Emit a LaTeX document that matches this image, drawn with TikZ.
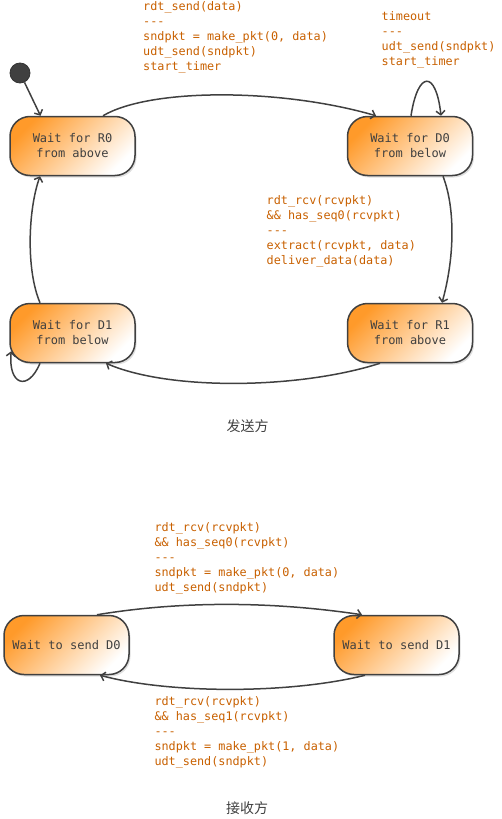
\documentclass[tikz,border=0pt]{standalone}
\usepackage{fontspec}
\setmonofont{DejaVu Sans Mono}
\newfontfamily\cjkfont{Noto Sans CJK SC}
\usetikzlibrary{arrows.meta,shadows}
\definecolor{lblc}{HTML}{C86000}
\definecolor{edgec}{HTML}{404040}
\definecolor{txtc}{HTML}{404040}
\definecolor{orng}{HTML}{FF9A2A}
\newcommand{\strt}{\rule{0pt}{10pt}}
\begin{document}
\begin{tikzpicture}[x=1pt,y=-1pt,
  state/.style={draw=edgec, line width=1.5pt, rounded corners=20pt,
    minimum width=125pt, minimum height=59pt, inner sep=0pt, align=center,
    top color=orng, bottom color=white, middle color=orng!50!white, shading angle=45,
    text=txtc, font={\ttfamily\fontsize{12}{15}\selectfont},
    drop shadow={opacity=0.25, shadow xshift=1.5pt, shadow yshift=-2pt}},
  lbl/.style={anchor=north west, inner sep=0pt, align=left, text=lblc,
    font={\ttfamily\fontsize{11.8}{15}\selectfont}},
  arr/.style={draw=edgec, line width=1.5pt, -{Straight Barb[length=4pt,width=9pt]}},
  ttl/.style={text=txtc, font={\cjkfont\fontsize{14}{16}\selectfont}}]
\useasboundingbox (0,0) rectangle (502,819);

% sender states
\node[circle, fill=edgec, draw=black!80, line width=0.8pt, minimum size=20pt, inner sep=0pt] (init) at (20,73) {};
\node[state] (r0) at (72.5,146) {Wait for R0\\from above};
\node[state] (d0) at (410,146) {Wait for D0\\from below};
\node[state] (d1) at (72.5,333) {Wait for D1\\from below};
\node[state] (r1) at (410,333) {Wait for R1\\from above};

% receiver states
\node[state] (s0) at (66.5,645) {Wait to send D0};
\node[state] (s1) at (396.5,645) {Wait to send D1};

% labels
\node[lbl] (l1) at (143,0.5) {\strt rdt\_send(data)\\-{}-{}-\\sndpkt = make\_pkt(0, data)\\udt\_send(sndpkt)\\start\_timer};
\node[lbl] (l2) at (381.5,10) {\strt timeout\\-{}-{}-\\udt\_send(sndpkt)\\start\_timer};
\node[lbl] (l3) at (266.5,194) {\strt rdt\_rcv(rcvpkt)\\\&\& has\_seq0(rcvpkt)\\-{}-{}-\\extract(rcvpkt, data)\\deliver\_data(data)};
\node[lbl] (l4) at (154.3,521) {\strt rdt\_rcv(rcvpkt)\\\&\& has\_seq0(rcvpkt)\\-{}-{}-\\sndpkt = make\_pkt(0, data)\\udt\_send(sndpkt)};
\node[lbl] (l5) at (154.3,695) {\strt rdt\_rcv(rcvpkt)\\\&\& has\_seq1(rcvpkt)\\-{}-{}-\\sndpkt = make\_pkt(1, data)\\udt\_send(sndpkt)};

\node[ttl] (t1) at (247.5,426) {发送方};
\node[ttl] (t2) at (247,808) {接收方};

% sender edges
\draw[arr] (init) -- ([xshift=-32pt]r0.north);
\draw[arr] ([xshift=30.5pt]r0.north) .. controls (150,88) and (280,88) .. ([xshift=-34pt]d0.north);
\draw[arr] ([xshift=1pt]d0.north) .. controls (418,70) and (436,70) .. ([xshift=31pt]d0.north);
\draw[arr] ([xshift=33pt]d0.south) .. controls (456,210) and (454,260) .. ([xshift=32pt]r1.north);
\draw[arr] ([xshift=-30pt]r1.south) .. controls (300,389) and (170,391) .. ([xshift=33.5pt]d1.south);
\draw[arr] ([xshift=-32.5pt]d1.south) .. controls (28,392) and (8,385) .. ([xshift=2pt,yshift=12pt]d1.south west);
\draw[arr] ([xshift=-32.5pt]d1.north) .. controls (26,270) and (28,210) .. ([xshift=-32.5pt]r0.south);

% receiver edges
\draw[arr] ([xshift=30.5pt]s0.north) .. controls (180,601) and (270,601) .. ([xshift=-34.5pt]s1.north);
\draw[arr] ([xshift=-31.5pt]s1.south) .. controls (290,694) and (170,694) .. ([xshift=33.5pt]s0.south);
\end{tikzpicture}
\end{document}
